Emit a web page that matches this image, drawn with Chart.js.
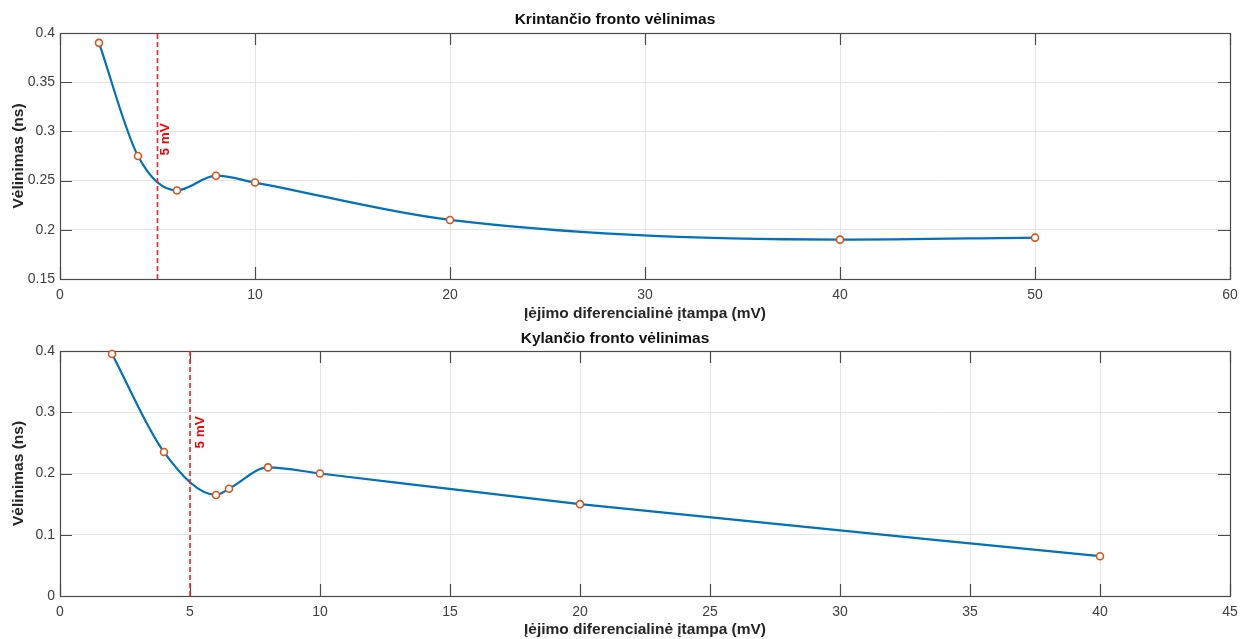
<!DOCTYPE html>
<html>
<head>
<meta charset="utf-8">
<title>Vėlinimas</title>
<script src="https://cdn.jsdelivr.net/npm/chart.js@4.4.1/dist/chart.umd.min.js"></script>
<style>
  html, body { margin: 0; padding: 0; background: #ffffff; }
  canvas { display: block; }
</style>
</head>
<body>
<canvas id="fallChart" width="1240" height="322"></canvas>
<canvas id="riseChart" width="1240" height="317"></canvas>
<script>
// Falling edge delay (ns) vs. input differential voltage (mV)
const fallVoltage = [2, 4, 6, 8, 10, 20, 40, 50];
const fallDelay   = [0.39, 0.275, 0.24, 0.255, 0.248, 0.21, 0.19, 0.192];

// Rising edge delay (ns) vs. input differential voltage (mV)
const riseVoltage = [2, 4, 6, 6.5, 8, 10, 20, 40];
const riseDelay   = [0.395, 0.235, 0.165, 0.175, 0.21, 0.2, 0.15, 0.065];

// Axis ticks
const fallXTicks = [0, 10, 20, 30, 40, 50, 60];
const fallYTicks = [0.15, 0.2, 0.25, 0.3, 0.35, 0.4];
const riseXTicks = [0, 5, 10, 15, 20, 25, 30, 35, 40, 45];
const riseYTicks = [0, 0.1, 0.2, 0.3, 0.4];

// Threshold marker
const thresholdVoltage = 5;
const thresholdLabel = '5 mV';

// Texts
const fallTitle = 'Krintančio fronto vėlinimas';
const riseTitle = 'Kylančio fronto vėlinimas';
const xAxisTitle = 'Įėjimo diferencialinė įtampa (mV)';
const yAxisTitle = 'Vėlinimas (ns)';

Chart.defaults.font.family = "'Liberation Sans', Arial, Helvetica, sans-serif";

const LINE_BLUE = '#0072BD';
const MARK_ORANGE = '#D95319';
const AXIS_GREY = '#4a4a4a';

// Short numeric tick text: 0.4 rather than 0.40
const tickText = v => String(Number(v.toFixed(4)));

// Box around the plot area with inward ticks on all four sides
const framePlugin = {
  id: 'frame',
  beforeDatasetsDraw(chart) {
    const { ctx, chartArea: a, scales: { x, y } } = chart;
    const len = 12;
    ctx.save();
    ctx.strokeStyle = AXIS_GREY;
    ctx.lineWidth = 1.2;
    ctx.beginPath();
    x.ticks.forEach(t => {
      const px = Math.round(x.getPixelForValue(t.value)) + 0.5;
      ctx.moveTo(px, a.bottom); ctx.lineTo(px, a.bottom - len);
      ctx.moveTo(px, a.top);    ctx.lineTo(px, a.top + len);
    });
    y.ticks.forEach(t => {
      const py = Math.round(y.getPixelForValue(t.value)) + 0.5;
      ctx.moveTo(a.left, py);  ctx.lineTo(a.left + len, py);
      ctx.moveTo(a.right, py); ctx.lineTo(a.right - len, py);
    });
    ctx.stroke();
    ctx.strokeRect(Math.round(a.left) + 0.5, Math.round(a.top) + 0.5,
                   Math.round(a.width), Math.round(a.height));
    ctx.restore();
  }
};

// Rotated caption beside the threshold line
const thresholdTextPlugin = {
  id: 'thresholdText',
  afterDatasetsDraw(chart, args, opts) {
    const { ctx, scales: { x, y } } = chart;
    const px = x.getPixelForValue(thresholdVoltage) + opts.offset;
    const py = y.getPixelForValue(opts.atValue);
    ctx.save();
    ctx.translate(px, py);
    ctx.rotate(-Math.PI / 2);
    ctx.fillStyle = '#ff0000';
    ctx.font = "bold 13.5px 'Liberation Sans', Arial, sans-serif";
    ctx.textAlign = 'center';
    ctx.textBaseline = 'middle';
    ctx.fillText(thresholdLabel, 0, 0);
    ctx.restore();
  }
};

function buildChart(canvasId, cfg) {
  const points = cfg.xs.map((v, i) => ({ x: v, y: cfg.ys[i] }));
  const yMin = cfg.yTicks[0];
  const yMax = cfg.yTicks[cfg.yTicks.length - 1];
  const xMin = cfg.xTicks[0];
  const xMax = cfg.xTicks[cfg.xTicks.length - 1];

  return new Chart(document.getElementById(canvasId), {
    type: 'line',
    data: {
      datasets: [
        {
          data: [{ x: thresholdVoltage, y: yMin }, { x: thresholdVoltage, y: yMax }],
          borderColor: '#ff2020',
          borderWidth: 1.6,
          borderDash: [5, 3],
          pointRadius: 0,
          tension: 0,
          clip: false
        },
        {
          data: points,
          borderColor: LINE_BLUE,
          borderWidth: 2.2,
          cubicInterpolationMode: 'monotone',
          pointRadius: 3.5,
          pointBorderWidth: 1.6,
          pointBackgroundColor: '#ffffff',
          pointBorderColor: MARK_ORANGE,
          clip: false
        }
      ]
    },
    options: {
      responsive: false,
      animation: false,
      events: [],
      layout: { padding: { left: 0, right: 10, top: 0, bottom: 0 } },
      plugins: {
        legend: { display: false },
        tooltip: { enabled: false },
        title: {
          display: true,
          text: cfg.title,
          color: '#111111',
          font: { size: 15.5, weight: 'bold', lineHeight: 1 },
          padding: cfg.titlePadding
        },
        thresholdText: { offset: cfg.labelOffset, atValue: cfg.labelAt }
      },
      scales: {
        x: {
          type: 'linear',
          min: xMin,
          max: xMax,
          afterBuildTicks: s => { s.ticks = cfg.xTicks.map(v => ({ value: v })); },
          afterFit: s => {
            s.height = cfg.xAxisHeight;
            s.paddingLeft = 0;
            s.paddingRight = 0;
          },
          ticks: {
            color: '#404040',
            font: { size: 14 },
            padding: 8,
            maxRotation: 0,
            autoSkip: false,
            callback: tickText
          },
          grid: { color: '#e4e4e4', lineWidth: 1, drawTicks: false },
          border: { display: false },
          title: {
            display: true,
            text: xAxisTitle,
            color: '#262626',
            font: { size: 15.5, weight: 'bold', lineHeight: 1 },
            padding: { top: 0, bottom: cfg.xTitlePad }
          }
        },
        y: {
          type: 'linear',
          min: yMin,
          max: yMax,
          afterBuildTicks: s => { s.ticks = cfg.yTicks.map(v => ({ value: v })); },
          afterFit: s => { s.width = 60; },
          ticks: {
            color: '#404040',
            font: { size: 14 },
            padding: 5,
            autoSkip: false,
            callback: tickText
          },
          grid: { color: '#e4e4e4', lineWidth: 1, drawTicks: false },
          border: { display: false },
          title: {
            display: true,
            text: yAxisTitle,
            color: '#262626',
            font: { size: 15.5, weight: 'bold', lineHeight: 1 },
            padding: { top: 11, bottom: 0 }
          }
        }
      }
    },
    plugins: [framePlugin, thresholdTextPlugin]
  });
}

buildChart('fallChart', {
  xs: fallVoltage, ys: fallDelay,
  xTicks: fallXTicks, yTicks: fallYTicks,
  title: fallTitle,
  titlePadding: { top: 12.25, bottom: 5.25 },
  xAxisHeight: 43, xTitlePad: 0.5,
  labelOffset: 8, labelAt: 0.292
});

buildChart('riseChart', {
  xs: riseVoltage, ys: riseDelay,
  xTicks: riseXTicks, yTicks: riseYTicks,
  title: riseTitle,
  titlePadding: { top: 9.25, bottom: 4.25 },
  xAxisHeight: 43, xTitlePad: 1.5,
  labelOffset: 10, labelAt: 0.267
});
</script>
</body>
</html>
